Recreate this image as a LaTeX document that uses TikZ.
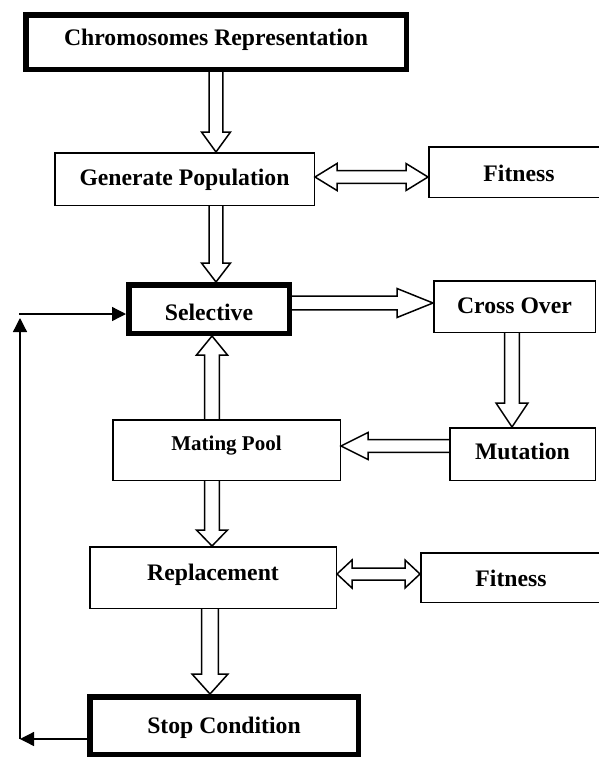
\documentclass[tikz,border=0pt]{standalone}
\usepackage{fontspec}
\setmainfont{Liberation Serif}
\usetikzlibrary{arrows.meta,calc}

\tikzset{
  box/.style={draw, line width=1.5pt, inner sep=0pt,
    font=\fontsize{23.7}{28}\selectfont\bfseries},
  thickbox/.style={box, line width=5.5pt},
  txt/.style 2 args={text height=#1, text depth=#2},
  fatline/.style={draw, line width=1.5pt, line join=miter},
  fat/shaft/.store in=\fatshaft, fat/head/.store in=\fathead,
  fat/len/.store in=\fatlen,
  fat/shaft=6.8pt, fat/head=14.5pt, fat/len=20pt,
  loopline/.style={line width=1.3pt, -{Triangle[length=14pt,width=14pt]}}
}

% hollow block arrow from #2 to #3
\newcommand{\fatarrow}[3][]{%
  \begin{scope}[#1]
    \path (#2) coordinate (fa-s) (#3) coordinate (fa-e)
      ($(fa-e)!\fatlen!(fa-s)$) coordinate (fa-h);
    \draw[fatline] ($(fa-s)!\fatshaft!90:(fa-e)$) -- ($(fa-h)!\fatshaft!90:(fa-e)$)
      -- ($(fa-h)!\fathead!90:(fa-e)$) -- (fa-e) -- ($(fa-h)!\fathead!-90:(fa-e)$)
      -- ($(fa-h)!\fatshaft!-90:(fa-e)$) -- ($(fa-s)!\fatshaft!-90:(fa-e)$);
  \end{scope}}

% hollow block arrow with a head at both ends
\newcommand{\fatdarrow}[3][]{%
  \begin{scope}[#1]
    \path (#2) coordinate (fa-s) (#3) coordinate (fa-e)
      ($(fa-s)!\fatlen!(fa-e)$) coordinate (fa-h1)
      ($(fa-e)!\fatlen!(fa-s)$) coordinate (fa-h2);
    \draw[fatline] (fa-s) -- ($(fa-h1)!\fathead!90:(fa-e)$) -- ($(fa-h1)!\fatshaft!90:(fa-e)$)
      -- ($(fa-h2)!\fatshaft!-90:(fa-s)$) -- ($(fa-h2)!\fathead!-90:(fa-s)$) -- (fa-e)
      -- ($(fa-h2)!\fathead!90:(fa-s)$) -- ($(fa-h2)!\fatshaft!90:(fa-s)$)
      -- ($(fa-h1)!\fatshaft!-90:(fa-e)$) -- ($(fa-h1)!\fathead!-90:(fa-e)$) -- cycle;
  \end{scope}}

\begin{document}
\begin{tikzpicture}[x=1pt, y=-1pt]
  \useasboundingbox (0,0) rectangle (599,758);

  \node[thickbox, txt={19pt}{13pt}, minimum width=380.5pt, minimum height=54.5pt] (chromo) at (216,42) {Chromosomes Representation};
  \node[box, txt={22pt}{10pt}, minimum width=259.5pt, minimum height=52.5pt] (genpop) at (184.5,179) {Generate Population};
  \node[box, txt={25pt}{7pt}, minimum width=180.5pt, minimum height=50.5pt] (fit1) at (519,172) {Fitness};
  \node[thickbox, txt={27.7pt}{4.3pt}, minimum width=160.5pt, minimum height=48.5pt] (sel) at (209,309) {Selective};
  \node[box, txt={22.5pt}{9.5pt}, minimum width=161.5pt, minimum height=51.5pt] (cross) at (514.5,306.5) {Cross Over};
  \node[box, txt={21pt}{11pt}, minimum width=145.5pt, minimum height=52.5pt] (mut) at (522.5,454) {Mutation};
  \node[box, txt={16.7pt}{15.3pt}, minimum width=227.5pt, minimum height=60.5pt,
    font=\fontsize{21}{25}\selectfont\bfseries] (pool) at (226.5,450) {Mating Pool};
  \node[box, txt={18.5pt}{13.5pt}, minimum width=246.5pt, minimum height=61.5pt] (repl) at (213,577.5) {Replacement};
  \node[box, txt={24.5pt}{7.5pt}, minimum width=180.5pt, minimum height=49.5pt] (fit2) at (511,577.5) {Fitness};
  \node[thickbox, txt={23.5pt}{8.5pt}, minimum width=268.5pt, minimum height=57.5pt] (stop) at (224,725.5) {Stop Condition};

  \fatarrow{chromo.south}{chromo.south |- genpop.north}
  \fatarrow[fat/len=19pt]{genpop.south -| 216,0}{sel.north -| 216,0}
  \fatdarrow[fat/shaft=6.3pt, fat/head=13.5pt, fat/len=22pt]{genpop.east |- 0,177}{fit1.west |- 0,177}
  \fatarrow[fat/len=36pt]{sel.east |- 0,303}{cross.west |- 0,303}
  \fatarrow[fat/shaft=7.3pt, fat/head=16pt, fat/len=24pt]{cross.south -| 512,0}{mut.north -| 512,0}
  \fatarrow[fat/shaft=6.3pt, fat/head=13.5pt, fat/len=27pt]{mut.west |- 0,446}{pool.east |- 0,446}
  \fatarrow[fat/shaft=7.3pt, fat/head=15.5pt, fat/len=19pt]{pool.north -| 212,0}{sel.south -| 212,0}
  \fatarrow[fat/shaft=7.3pt, fat/head=15.5pt, fat/len=16pt]{pool.south -| 212,0}{repl.north -| 212,0}
  \fatdarrow[fat/shaft=6pt, fat/head=14pt, fat/len=15pt]{repl.east |- 0,574}{fit2.west |- 0,574}
  \fatarrow[fat/shaft=8.3pt, fat/head=18pt, fat/len=20pt]{repl.south -| 210,0}{stop.north -| 210,0}

  % loop back to selection
  \coordinate (lp-b) at (20,739);
  \coordinate (lp-t) at (20,318);
  \coordinate (lp-e) at (19,314);
  \draw[loopline] (stop.west |- lp-b) -- (lp-b);
  \draw[loopline] (lp-b) -- (lp-t);
  \draw[loopline] (lp-e) -- (lp-e -| sel.west);
\end{tikzpicture}
\end{document}
